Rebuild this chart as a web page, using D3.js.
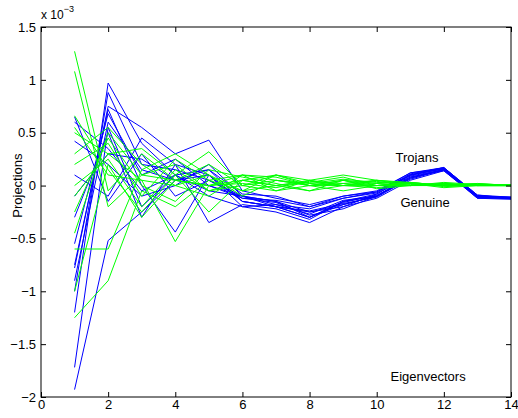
<!DOCTYPE html>
<html>
<head>
<meta charset="utf-8">
<script src="https://cdn.jsdelivr.net/npm/d3@7"></script>
<style>
  body { margin: 0; background: #fff; }
  text { font-family: "Liberation Sans", Arial, sans-serif; }
</style>
</head>
<body>
<div id="chart"></div>
<script>
// eigenvector index
var xs = d3.range(1, 15);

// projections (units of 1e-3), one array per sample
var trojans = [
  [-1.93, -0.52, -0.25, 0.05, 0.10, -0.15, -0.20, -0.30, -0.15, -0.10, 0.08, 0.15, -0.10, -0.12],
  [-1.72, 0.55, -0.20, 0.10, -0.05, -0.10, -0.15, -0.25, -0.20, -0.08, 0.10, 0.16, -0.10, -0.12],
  [-1.20, 0.97, 0.40, 0.10, 0.15, -0.15, -0.20, -0.30, -0.18, -0.10, 0.07, 0.15, -0.11, -0.12],
  [-1.00, 0.88, 0.20, 0.15, 0.05, -0.10, -0.18, -0.22, -0.12, -0.06, 0.10, 0.17, -0.09, -0.11],
  [-0.78, 0.75, 0.55, 0.30, 0.43, -0.05, -0.12, -0.18, -0.10, -0.05, 0.12, 0.16, -0.10, -0.12],
  [-0.75, 0.72, 0.00, -0.44, 0.10, -0.20, -0.25, -0.35, -0.20, -0.12, 0.05, 0.14, -0.12, -0.13],
  [-0.55, 0.68, 0.10, 0.25, 0.00, -0.12, -0.16, -0.28, -0.22, -0.10, 0.09, 0.15, -0.10, -0.11],
  [-0.30, 0.50, -0.30, 0.20, -0.35, -0.18, -0.22, -0.32, -0.15, -0.08, 0.10, 0.16, -0.11, -0.12],
  [-0.10, 0.30, 0.25, 0.05, 0.15, -0.08, -0.10, -0.20, -0.12, -0.07, 0.11, 0.17, -0.10, -0.12],
  [0.10, -0.10, 0.45, 0.20, 0.10, -0.15, -0.20, -0.25, -0.18, -0.10, 0.08, 0.14, -0.11, -0.12],
  [0.42, 0.20, -0.10, 0.00, 0.20, -0.10, -0.15, -0.30, -0.16, -0.09, 0.06, 0.15, -0.12, -0.12],
  [0.60, 0.35, -0.05, 0.10, -0.10, -0.20, -0.18, -0.27, -0.14, -0.10, 0.10, 0.16, -0.10, -0.11],
  [0.65, -0.15, 0.30, -0.10, 0.05, -0.12, -0.14, -0.20, -0.10, -0.06, 0.12, 0.17, -0.09, -0.12],
  [-0.90, 0.60, 0.15, 0.05, 0.00, -0.10, -0.20, -0.24, -0.17, -0.11, 0.07, 0.15, -0.10, -0.12]
];

var genuine = [
  [1.27, -0.05, 0.30, 0.05, 0.00, 0.05, 0.00, -0.05, 0.05, 0.00, 0.03, 0.00, 0.02, 0.00],
  [1.08, -0.20, 0.10, 0.20, -0.05, 0.00, 0.05, 0.00, 0.00, 0.02, 0.00, 0.03, 0.01, 0.01],
  [0.66, 0.15, -0.25, 0.10, 0.32, 0.00, 0.10, 0.05, 0.10, 0.05, 0.02, -0.02, 0.00, 0.00],
  [0.55, 0.10, 0.05, -0.53, 0.00, 0.10, -0.05, 0.00, 0.05, -0.03, 0.00, 0.02, 0.00, 0.00],
  [0.30, 0.55, 0.20, 0.00, -0.10, 0.10, 0.05, 0.02, 0.00, 0.05, 0.03, 0.00, 0.01, 0.00],
  [0.20, 0.40, -0.10, 0.25, 0.05, -0.05, 0.10, 0.00, -0.05, 0.00, 0.00, 0.02, 0.00, 0.01],
  [-0.10, 0.30, 0.35, 0.10, -0.25, 0.05, 0.00, 0.03, 0.08, 0.00, 0.02, -0.01, 0.00, 0.00],
  [-0.25, 0.45, 0.00, -0.15, 0.15, 0.08, 0.02, -0.05, 0.00, 0.04, 0.00, 0.00, 0.02, 0.00],
  [-0.60, -0.60, 0.15, 0.30, 0.10, -0.10, 0.05, 0.00, 0.05, 0.02, 0.00, 0.01, 0.00, 0.00],
  [-1.00, 0.20, -0.30, 0.05, 0.20, 0.00, -0.05, 0.05, 0.00, 0.00, 0.03, 0.00, 0.01, 0.01],
  [-1.25, -0.90, -0.05, -0.20, 0.05, 0.10, 0.08, 0.00, 0.02, 0.05, 0.00, 0.02, 0.00, 0.00],
  [0.50, 0.30, 0.05, 0.00, 0.10, -0.05, 0.00, 0.05, 0.00, -0.02, 0.01, 0.00, 0.00, 0.00],
  [0.00, 0.25, -0.20, 0.15, -0.05, 0.05, 0.10, 0.02, 0.06, 0.03, 0.02, 0.00, 0.01, 0.00],
  [-0.45, 0.50, 0.10, 0.05, 0.00, 0.02, -0.02, 0.04, 0.02, 0.00, 0.00, 0.01, 0.00, 0.00]
];

var xTicks = [0, 2, 4, 6, 8, 10, 12, 14];
var yTicks = [-2, -1.5, -1, -0.5, 0, 0.5, 1, 1.5];

var margin = {top: 27, right: 7, bottom: 21, left: 41};
var width = 518 - margin.left - margin.right;
var height = 418 - margin.top - margin.bottom;

var svg = d3.select('#chart')
  .append('svg')
    .attr('width', 518)
    .attr('height', 418)
  .append('g')
    .attr('transform', 'translate(' + margin.left + ',' + margin.top + ')');

var x = d3.scaleLinear().domain([0, 14]).range([0, width]);
var y = d3.scaleLinear().domain([-2, 1.5]).range([height, 0]);

var fmt = function(d){ return d < 0 ? '\u2212' + Math.abs(d) : String(d); };

var line = d3.line()
  .x(function(d, i){ return x(xs[i]); })
  .y(function(d){ return y(d); });

svg.selectAll('.trojan')
  .data(trojans)
  .enter()
  .append('path')
    .attr('class', 'trojan')
    .attr('d', line)
    .style('fill', 'none')
    .style('stroke', '#0000ff')
    .style('stroke-width', 1);

svg.selectAll('.genuine')
  .data(genuine)
  .enter()
  .append('path')
    .attr('class', 'genuine')
    .attr('d', line)
    .style('fill', 'none')
    .style('stroke', '#00ff00')
    .style('stroke-width', 1);

// axes, ticks pointing inward like matlab
function styleAxis(g){
  g.select('.domain').remove();
  g.selectAll('.tick line').attr('stroke', '#000');
  g.selectAll('.tick text').style('font-size', '13px').attr('fill', '#000');
}

svg.append('g')
  .attr('transform', 'translate(0,' + height + ')')
  .call(d3.axisBottom(x).tickValues(xTicks).tickSize(-5).tickPadding(3).tickFormat(fmt))
  .call(styleAxis);

svg.append('g')
  .call(d3.axisTop(x).tickValues(xTicks).tickSize(-5).tickFormat(''))
  .call(styleAxis);

svg.append('g')
  .call(d3.axisLeft(y).tickValues(yTicks).tickSize(-5).tickPadding(5).tickFormat(fmt))
  .call(styleAxis);

svg.append('g')
  .attr('transform', 'translate(' + width + ',0)')
  .call(d3.axisRight(y).tickValues(yTicks).tickSize(-5).tickFormat(''))
  .call(styleAxis);

svg.append('rect')
  .attr('width', width)
  .attr('height', height)
  .style('fill', 'none')
  .style('stroke', '#000')
  .style('stroke-width', 1);

// exponent label
var expo = svg.append('text')
  .attr('x', 0)
  .attr('y', -8)
  .style('font-size', '12px');
expo.append('tspan').text('x 10');
expo.append('tspan').attr('dy', -7).style('font-size', '9px').text('\u22123');

svg.append('text')
  .attr('transform', 'translate(' + (-19) + ',' + y(0) + ') rotate(-90)')
  .attr('text-anchor', 'middle')
  .style('font-size', '13px')
  .text('Projections');

svg.append('text')
  .attr('x', x(11.2)).attr('y', y(0.22))
  .attr('text-anchor', 'middle')
  .style('font-size', '13px')
  .text('Trojans');

svg.append('text')
  .attr('x', x(11.44)).attr('y', y(-0.2))
  .attr('text-anchor', 'middle')
  .style('font-size', '13px')
  .text('Genuine');

svg.append('text')
  .attr('x', x(11.53)).attr('y', y(-1.85))
  .attr('text-anchor', 'middle')
  .style('font-size', '13px')
  .text('Eigenvectors');
</script>
</body>
</html>
